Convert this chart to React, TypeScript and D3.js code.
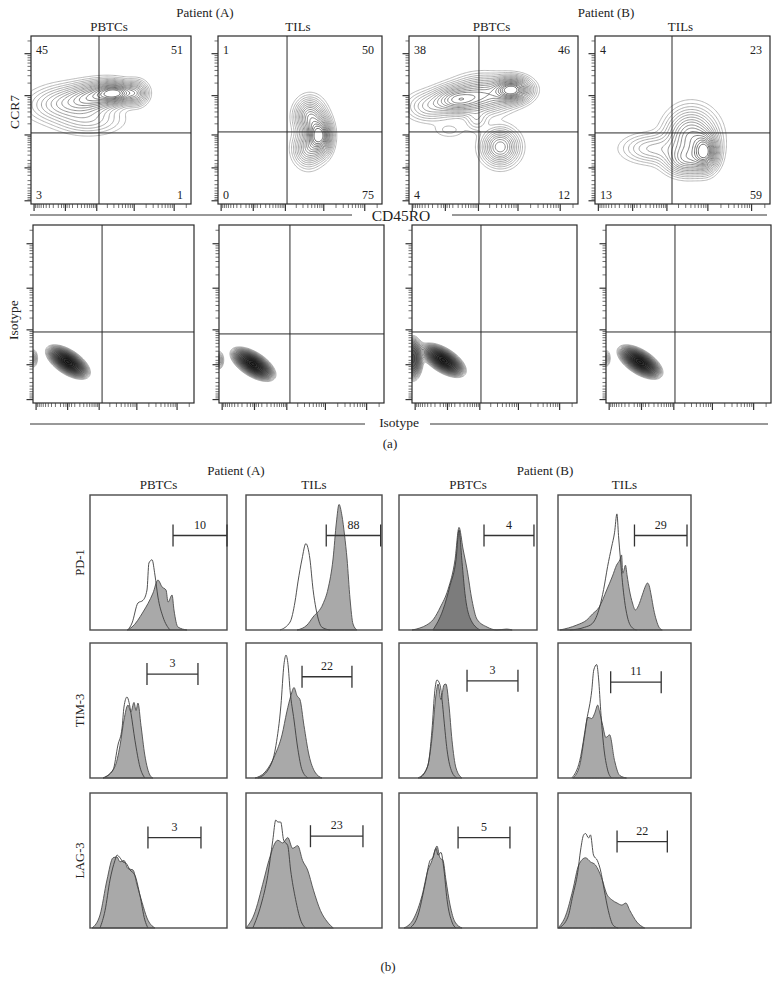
import React, { useMemo } from "react";
import * as d3 from "d3";

const FONT = "'Liberation Serif', 'Times New Roman', 'DejaVu Serif', serif";

// ---------------- (a) CCR7 / CD45RO contour plots ----------------
const patients = ["Patient (A)", "Patient (B)"];
const samples = ["PBTCs", "TILs", "PBTCs", "TILs"];
// quadrant percentages: upper-left, upper-right, lower-left, lower-right
const quadrantPercents = [
  [45, 51, 3, 1],
  [1, 50, 0, 75],
  [38, 46, 4, 12],
  [4, 23, 13, 59],
];
// gates in display units (0-100 of the axis)
const cd45roGate = [42.5, 42.1, 41.4, 44];
const ccr7Gate = [42.3, 42.9, 42.9, 42.3];
// populations: [x, y, sdX, sdY, correlation, weight] in display units
const ccr7Populations = [
  [
    [53, 66, 7, 3.5, 0, 1],
    [40, 64, 10, 5, 0.2, 0.6],
    [22, 60, 13, 6, 0.1, 0.35],
    [66, 66, 4, 4, 0, 0.4],
    [36, 50, 12, 5, 0, 0.2],
  ],
  [
    [61, 41, 4, 6, 0, 1],
    [56, 52, 5, 6, 0, 0.6],
    [55, 33, 5, 6, 0, 0.45],
    [65, 40, 3, 6, 0, 0.3],
  ],
  [
    [61, 68, 6, 4, 0, 1],
    [28, 62, 8, 4.5, 0, 0.55],
    [44, 65, 10, 6, 0, 0.5],
    [54, 34, 6, 6, 0, 0.55],
    [12, 58, 8, 5, 0, 0.2],
    [40, 50, 4, 4, 0, 0.12],
    [24, 44, 6, 3, 0, 0.06],
  ],
  [
    [63, 31, 4, 6, 0, 1],
    [55, 40, 8, 9, 0, 0.7],
    [33, 33, 10, 5, 0, 0.25],
    [52, 26, 7, 5, 0, 0.5],
  ],
];
const isotypeXGate = [42.9, 43, 41.8, 41.8];
const isotypeYGate = [39.9, 38.8, 39.9, 39.9];
const isotypePopulations = [
  [
    [21.7, 23, 5.6, 3.9, -0.6, 1],
    [21.7, 23, 2.8, 2, -0.6, 0.5],
    [0, 25, 2, 3.5, 0, 0.12],
  ],
  [
    [20.6, 21.8, 5.6, 3.9, -0.6, 1],
    [20.6, 21.8, 2.8, 2, -0.6, 0.5],
    [0, 24, 2, 3.5, 0, 0.12],
  ],
  [
    [19, 24, 5.6, 3.9, -0.6, 1],
    [19, 24, 2.8, 2, -0.6, 0.5],
    [0.5, 25, 3, 6, 0, 0.45],
  ],
  [
    [20.6, 23, 5.6, 3.9, -0.6, 1],
    [20.6, 23, 2.8, 2, -0.6, 0.5],
    [0, 25, 2, 3.5, 0, 0.1],
  ],
];

// fluorescence axis tick values
const majorTickValues = [-1000, 0, 1000, 10000, 100000];
const minorTickValues = [
  ...d3.range(-900, -99, 100),
  -50,
  -20,
  20,
  50,
  ...d3.range(100, 1000, 100),
  ...d3.range(2000, 10000, 1000),
  ...d3.range(20000, 100000, 10000),
  200000,
];

// ---------------- (b) histograms ----------------
const markers = ["PD-1", "TIM-3", "LAG-3"];
const gatePercents = [
  [10, 88, 4, 29],
  [3, 22, 3, 11],
  [3, 23, 5, 22],
];
const gateRanges = [
  [[60.6, 100], [59, 99], [61.6, 97.8], [57.5, 97]],
  [[41.6, 78.8], [41.2, 77.9], [49.3, 86.2], [39.6, 77.6]],
  [[42.3, 81], [47.4, 86], [42.8, 80.4], [44.4, 82.2]],
];
const gateLevels = [
  [70, 70, 70, 70],
  [77, 75, 72, 71],
  [67, 68, 67, 64],
];
// control (isotype) histograms [x, count%]
const controlCurves = [
  [
    [[27.7, 0], [30.7, 5.2], [35, 20], [38.7, 22], [41.6, 29.6], [43, 49.6], [45.3, 52], [47.4, 40.7], [49.6, 24.4], [53.3, 9.6], [58.4, 0]],
    [[25, 0], [32.4, 5.9], [36, 20.7], [38.2, 35.6], [41.2, 52.6], [44, 64], [47, 52.6], [49.3, 30], [51.5, 15.6], [55.9, 2], [61.8, 0]],
    [[24.6, 0], [31.9, 15], [37, 33], [41.3, 52], [43.5, 74], [45.7, 50], [47.8, 27], [51.4, 9], [58.7, 0]],
    [[9, 0], [20, 2], [26, 5], [31.3, 17], [34.3, 30], [37.3, 47], [40.3, 61.5], [42.5, 72], [44.3, 86], [45.5, 70], [47, 52], [48.5, 35], [50, 22], [52.2, 9.6], [56, 1.5], [59, 0]],
  ],
  [
    [[9.5, 0], [16.8, 5.9], [20.4, 24.4], [23.4, 37], [24.8, 52.6], [27, 60], [28.5, 56], [29.9, 48], [32.8, 28], [36.5, 8], [40, 0]],
    [[8.8, 0], [16.2, 6], [22, 24], [25.7, 54], [27.9, 84], [29.4, 91], [30.9, 84], [32.4, 65], [35.3, 43], [38.2, 21], [41.2, 6], [45.6, 0]],
    [[15.2, 0], [21, 9.6], [23.9, 35.6], [26, 65], [27.5, 72.6], [29.7, 69], [31.2, 58], [32.6, 43], [34.8, 21], [38.4, 4.4], [42, 0]],
    [[10.4, 0], [16.4, 13], [21.6, 43], [25.4, 65], [26.9, 80], [29.1, 84], [30.6, 72.6], [32.1, 50], [34.3, 24], [37.3, 6], [40.3, 0]],
  ],
  [
    [[7.3, 0], [11, 13], [14.6, 35.6], [18.2, 50], [19.7, 54], [21.9, 52], [24, 49], [26.3, 48], [29.2, 43], [32.8, 39], [36.5, 24], [40, 6], [42.3, 0]],
    [[5, 0], [11, 17], [16, 39], [19.7, 65], [21.9, 80], [23.4, 78.5], [25.5, 78.5], [27.7, 65], [30.7, 61], [32.8, 43], [36.5, 21], [40.1, 6], [43.8, 0]],
    [[8, 0], [13.8, 9.6], [18.8, 32], [22.5, 50], [24.6, 52], [26.8, 59], [28.3, 54], [30.4, 56], [32.6, 43], [34.8, 21], [38.4, 4.4], [41.3, 0]],
    [[0.7, 0], [7.4, 8], [11.1, 24], [14.8, 41], [17, 57.8], [19.3, 69], [20.7, 70], [23, 66.7], [24.4, 69], [26.7, 54], [29.6, 50], [31.9, 43], [34.8, 28], [37.8, 13], [41.5, 2], [45.2, 0]],
  ],
];
// stained histograms [x, count%]
const stainedCurves = [
  [
    [[27, 0], [30.7, 2.2], [38.7, 13.3], [46, 27.4], [49.6, 37], [52.6, 31.9], [55.5, 29.6], [57, 20.7], [59.9, 25.9], [61.3, 14.8], [64.2, 2.2], [70.8, 0]],
    [[37.5, 0], [44.9, 3.7], [49.3, 9.6], [56.6, 19.3], [60.3, 30.4], [64, 52.6], [66.5, 80], [68.4, 93], [70.5, 85], [72.5, 70], [74.3, 52.6], [76.5, 23], [78.7, 4.4], [81.6, 0]],
    [[9.4, 0], [15.2, 1.5], [20, 3.7], [25, 8], [30, 17], [35.5, 30], [40.6, 52], [43.5, 76], [46.4, 60], [49.3, 45], [52.9, 22], [56.5, 8], [63.8, 2.2], [71, 0], [78, 0.7], [82, 0]],
    [[1.5, 0], [14.2, 3.7], [21.6, 7.4], [26, 11.9], [31, 17], [36.6, 29.6], [41, 40], [44, 48], [46.5, 52], [47.8, 55.6], [48.7, 42], [49.5, 44], [50.7, 48], [52, 40], [53.7, 29.6], [56, 20], [58.2, 14.8], [60.5, 18], [63.4, 26], [66, 33], [67.2, 34.8], [68.5, 33], [70, 26], [72, 15], [73.9, 7.4], [76, 2], [78.4, 0]],
  ],
  [
    [[9.5, 0], [18, 8], [21.9, 24], [24.8, 43], [27.7, 54], [29.9, 49], [32.1, 56], [33.6, 50], [35, 55.5], [37.2, 39], [40, 17], [43.8, 2], [46, 0]],
    [[6.6, 0], [14, 4.4], [21.3, 17], [26.5, 32], [30, 49], [33, 61], [35.3, 67], [37.5, 61], [39.7, 58], [42.6, 39], [46.3, 17], [50.7, 4.4], [55.9, 0]],
    [[13.8, 0], [20.3, 7.4], [23.9, 29.6], [26.8, 61.5], [28.3, 69.6], [30.4, 58], [32.6, 69], [34, 69.6], [36.2, 54], [38.4, 28], [41.3, 7.4], [45.6, 0]],
    [[11.2, 0], [16.4, 9.6], [20.1, 32], [22.4, 45], [25.4, 44], [27.6, 48], [29.9, 54], [31.3, 49], [33.6, 39], [36, 30], [38.8, 32], [42.5, 13], [46.3, 2], [51.5, 0]],
  ],
  [
    [[1.5, 0], [7.3, 9.6], [12.4, 35.6], [16.8, 52], [19.7, 52.6], [21.9, 49], [24.8, 50], [27.7, 44], [31.4, 43], [34.3, 32], [38, 19], [41.6, 7.4], [47.4, 0]],
    [[0, 0], [5.8, 9.6], [13.1, 35.6], [16.8, 50], [23.4, 65], [27, 63], [30.7, 67], [34.3, 59], [38, 61], [41.6, 50], [45.3, 43], [49.6, 28], [54.7, 13], [59.9, 4.4], [64.2, 0]],
    [[3.6, 0], [10.9, 7.4], [16.7, 24], [21, 43], [23.9, 50], [26.1, 57.8], [27.5, 60.7], [29.7, 52], [31.9, 50], [34, 35.6], [37, 17], [40.6, 4.4], [45.7, 0]],
    [[0, 0], [5.9, 9.6], [11.1, 28], [15.6, 46.7], [20.7, 52], [24.4, 49], [28.1, 46.7], [33.3, 35.6], [36.3, 26], [40.7, 20.7], [44.4, 18.5], [48, 17], [51, 18.5], [54, 13], [59.3, 4.4], [65.2, 0]],
  ],
];

type Pop = number[];

function densityContours(
  pops: Pop[],
  xs: d3.ScaleLinear<number, number>,
  ys: d3.ScaleLinear<number, number>,
  levels: number[]
) {
  const n = 140;
  const values: number[] = new Array(n * n);
  for (let j = 0; j < n; j++) {
    for (let i = 0; i < n; i++) {
      const ux = ((i + 0.5) / n) * 100;
      const uy = 100 - ((j + 0.5) / n) * 100;
      let v = 0;
      for (const [cx, cy, sx, sy, rho, w] of pops) {
        const dx = (ux - cx) / sx;
        const dy = (uy - cy) / sy;
        const q = (dx * dx - 2 * rho * dx * dy + dy * dy) / (1 - rho * rho);
        v += w * Math.exp(-0.5 * q);
      }
      values[j * n + i] = v;
    }
  }
  const max = d3.max(values) as number;
  const contours = d3
    .contours()
    .size([n, n])
    .thresholds(levels.map((l) => l * max))(values);
  const proj = d3.geoTransform({
    point(x: number, y: number) {
      (this as any).stream.point(xs((x / n) * 100), ys(100 - (y / n) * 100));
    },
  });
  const path = d3.geoPath(proj as any);
  return contours.map((c) => path(c as any) || "");
}

function FlowAxes({ x0, x1, y0, y1 }: { x0: number; x1: number; y0: number; y1: number }) {
  const tx = d3.scaleSymlog().constant(200).domain([-1230, 262144]).range([x0, x1]);
  const ty = d3.scaleSymlog().constant(200).domain([-1230, 262144]).range([y1, y0]);
  const items: JSX.Element[] = [];
  minorTickValues.forEach((v, i) => {
    items.push(<line key={"ym" + i} x1={x0 - 3.5} x2={x0} y1={ty(v)} y2={ty(v)} />);
    items.push(<line key={"xm" + i} x1={tx(v)} x2={tx(v)} y1={y1} y2={y1 + 4} />);
  });
  majorTickValues.forEach((v, i) => {
    items.push(<line key={"yM" + i} x1={x0 - 6.5} x2={x0} y1={ty(v)} y2={ty(v)} strokeWidth={1.2} />);
    items.push(<line key={"xM" + i} x1={tx(v)} x2={tx(v)} y1={y1} y2={y1 + 7} strokeWidth={1.2} />);
  });
  return (
    <g stroke="#333" strokeWidth={0.7}>
      {items}
    </g>
  );
}

export default function App() {
  const topPanels = [[31, 191], [218, 382], [409, 578], [595, 770]];
  const topY = [36, 204];
  const isoPanels = [[33, 194], [219, 384], [412, 577], [606, 771]];
  const isoY = [225, 403];
  const histCols = [[90, 227], [246, 382], [399, 537], [558, 691]];
  const histRows = [[495, 630], [643, 778], [793, 928]];

  const topLevels = [0.025, 0.045, 0.07, 0.1, 0.135, 0.175, 0.22, 0.27, 0.32, 0.38, 0.44, 0.5, 0.57, 0.64, 0.71, 0.78, 0.86];
  const isoLevels = d3.range(18).map((i) => 0.03 * Math.pow(0.93 / 0.03, i / 17));

  const topContours = useMemo(
    () =>
      topPanels.map(([l, r], k) => {
        const xs = d3.scaleLinear([0, 100], [l, r]);
        const ys = d3.scaleLinear([0, 100], [topY[1], topY[0]]);
        return densityContours(ccr7Populations[k], xs, ys, topLevels);
      }),
    []
  );
  const isoContours = useMemo(
    () =>
      isoPanels.map(([l, r], k) => {
        const xs = d3.scaleLinear([0, 100], [l, r]);
        const ys = d3.scaleLinear([0, 100], [isoY[1], isoY[0]]);
        return densityContours(isotypePopulations[k], xs, ys, isoLevels);
      }),
    []
  );

  const topColor = d3.scaleLinear<string>().domain([0, topLevels.length - 1]).range(["#a8a8a8", "#484848"]);
  const isoColor = d3.scaleLinear<string>().domain([0, isoLevels.length - 1]).range(["#9a9a9a", "#000"]);

  const textStyle = { fontFamily: FONT, fill: "#222" } as const;

  return (
    <svg
      width={780}
      height={993}
      viewBox="0 0 780 993"
      style={{ position: "absolute", left: 0, top: 0, background: "#fff" }}
    >
      <rect x={0} y={0} width={780} height={993} fill="#fff" />
      {/* ---------- (a) headers ---------- */}
      <text x={205} y={17} fontSize={13} textAnchor="middle" {...textStyle}>{patients[0]}</text>
      <text x={606} y={17} fontSize={13} textAnchor="middle" {...textStyle}>{patients[1]}</text>
      {topPanels.map(([l, r], k) => (
        <text key={"sa" + k} x={(l + r) / 2 - 2} y={31} fontSize={13} textAnchor="middle" {...textStyle}>
          {samples[k]}
        </text>
      ))}

      {/* top contour panels */}
      {topPanels.map(([l, r], k) => {
        const xs = d3.scaleLinear([0, 100], [l, r]);
        const ys = d3.scaleLinear([0, 100], [topY[1], topY[0]]);
        const q = quadrantPercents[k];
        return (
          <g key={"tp" + k}>
            <g fill="none" strokeWidth={0.8}>
              {topContours[k].map((d, i) => (
                <path key={i} d={d} stroke={topColor(i)} />
              ))}
            </g>
            <rect x={l} y={topY[0]} width={r - l} height={topY[1] - topY[0]} fill="none" stroke="#2a2a2a" strokeWidth={1.2} />
            <line x1={xs(cd45roGate[k])} x2={xs(cd45roGate[k])} y1={topY[0]} y2={topY[1]} stroke="#2a2a2a" strokeWidth={1} />
            <line x1={l} x2={r} y1={ys(ccr7Gate[k])} y2={ys(ccr7Gate[k])} stroke="#2a2a2a" strokeWidth={1} />
            <FlowAxes x0={l} x1={r} y0={topY[0]} y1={topY[1]} />
            <text x={l + 5} y={topY[0] + 18} fontSize={12} {...textStyle}>{q[0]}</text>
            <text x={r - 8} y={topY[0] + 18} fontSize={12} textAnchor="end" {...textStyle}>{q[1]}</text>
            <text x={l + 5} y={topY[1] - 5} fontSize={12} {...textStyle}>{q[2]}</text>
            <text x={r - 8} y={topY[1] - 5} fontSize={12} textAnchor="end" {...textStyle}>{q[3]}</text>
          </g>
        );
      })}
      <text transform="translate(19,112) rotate(-90)" fontSize={13.5} textAnchor="middle" {...textStyle}>CCR7</text>
      <line x1={30} x2={352} y1={215} y2={215} stroke="#333" strokeWidth={1} />
      <line x1={452} x2={767} y1={215} y2={215} stroke="#333" strokeWidth={1} />
      <text x={401} y={220.5} fontSize={15.5} textAnchor="middle" {...textStyle}>CD45RO</text>

      {/* isotype panels */}
      {isoPanels.map(([l, r], k) => {
        const xs = d3.scaleLinear([0, 100], [l, r]);
        const ys = d3.scaleLinear([0, 100], [isoY[1], isoY[0]]);
        return (
          <g key={"ip" + k}>
            <g strokeWidth={0.7}>
              {isoContours[k].map((d, i) => (
                <path key={i} d={d} stroke={isoColor(i)} fill="#000" fillOpacity={i < 2 ? 0 : 0.1} />
              ))}
            </g>
            <rect x={l} y={isoY[0]} width={r - l} height={isoY[1] - isoY[0]} fill="none" stroke="#2a2a2a" strokeWidth={1.2} />
            <line x1={xs(isotypeXGate[k])} x2={xs(isotypeXGate[k])} y1={isoY[0]} y2={isoY[1]} stroke="#2a2a2a" strokeWidth={1} />
            <line x1={l} x2={r} y1={ys(isotypeYGate[k])} y2={ys(isotypeYGate[k])} stroke="#2a2a2a" strokeWidth={1} />
            <FlowAxes x0={l} x1={r} y0={isoY[0]} y1={isoY[1]} />
          </g>
        );
      })}
      <text transform="translate(18,320) rotate(-90)" fontSize={13.5} textAnchor="middle" {...textStyle}>Isotype</text>
      <line x1={30} x2={365} y1={424} y2={424} stroke="#333" strokeWidth={1} />
      <line x1={430} x2={768} y1={424} y2={424} stroke="#333" strokeWidth={1} />
      <text x={399} y={427} fontSize={13.5} textAnchor="middle" {...textStyle}>Isotype</text>
      <text x={390} y={448} fontSize={13} textAnchor="middle" {...textStyle}>(a)</text>

      {/* ---------- (b) histograms ---------- */}
      <text x={236} y={475} fontSize={13} textAnchor="middle" {...textStyle}>{patients[0]}</text>
      <text x={545} y={475} fontSize={13} textAnchor="middle" {...textStyle}>{patients[1]}</text>
      {histCols.map(([l, r], k) => (
        <text key={"sb" + k} x={(l + r) / 2} y={489} fontSize={13} textAnchor="middle" {...textStyle}>
          {samples[k]}
        </text>
      ))}
      {histRows.map(([t, b], ri) => (
        <g key={"row" + ri}>
          <text transform={`translate(84,${(t + b) / 2}) rotate(-90)`} fontSize={12.5} textAnchor="middle" {...textStyle}>
            {markers[ri]}
          </text>
          {histCols.map(([l, r], ci) => {
            const x = d3.scaleLinear([0, 100], [l, r]);
            const y = d3.scaleLinear([0, 100], [b, t]);
            const area = d3
              .area<number[]>()
              .x((d) => x(d[0]))
              .y0(b)
              .y1((d) => y(d[1]))
              .curve(d3.curveMonotoneX);
            const line = d3
              .line<number[]>()
              .x((d) => x(d[0]))
              .y((d) => y(d[1]))
              .curve(d3.curveMonotoneX);
            const [g0, g1] = gateRanges[ri][ci];
            const gy = y(gateLevels[ri][ci]);
            const overlayFill = ri === 0 && ci === 2 ? "#7c7c7c" : "none";
            return (
              <g key={"h" + ri + ci}>
                <path d={area(stainedCurves[ri][ci]) || ""} fill="#a9a9a9" stroke="#4d4d4d" strokeWidth={0.9} />
                <path d={(overlayFill === "none" ? line : area)(controlCurves[ri][ci]) || ""} fill={overlayFill} stroke="#3d3d3d" strokeWidth={0.9} />
                <rect x={l} y={t} width={r - l} height={b - t} fill="none" stroke="#4a4a4a" strokeWidth={1.4} />
                <g stroke="#333" strokeWidth={1.3}>
                  <line x1={x(g0)} x2={x(g1)} y1={gy} y2={gy} />
                  <line x1={x(g0)} x2={x(g0)} y1={gy - 11} y2={gy + 11} />
                  <line x1={x(g1)} x2={x(g1)} y1={gy - 11} y2={gy + 11} />
                </g>
                <text x={(x(g0) + x(g1)) / 2} y={gy - 7} fontSize={12} textAnchor="middle" {...textStyle}>
                  {gatePercents[ri][ci]}
                </text>
              </g>
            );
          })}
        </g>
      ))}
      <text x={388} y={971} fontSize={13} textAnchor="middle" {...textStyle}>(b)</text>
    </svg>
  );
}
